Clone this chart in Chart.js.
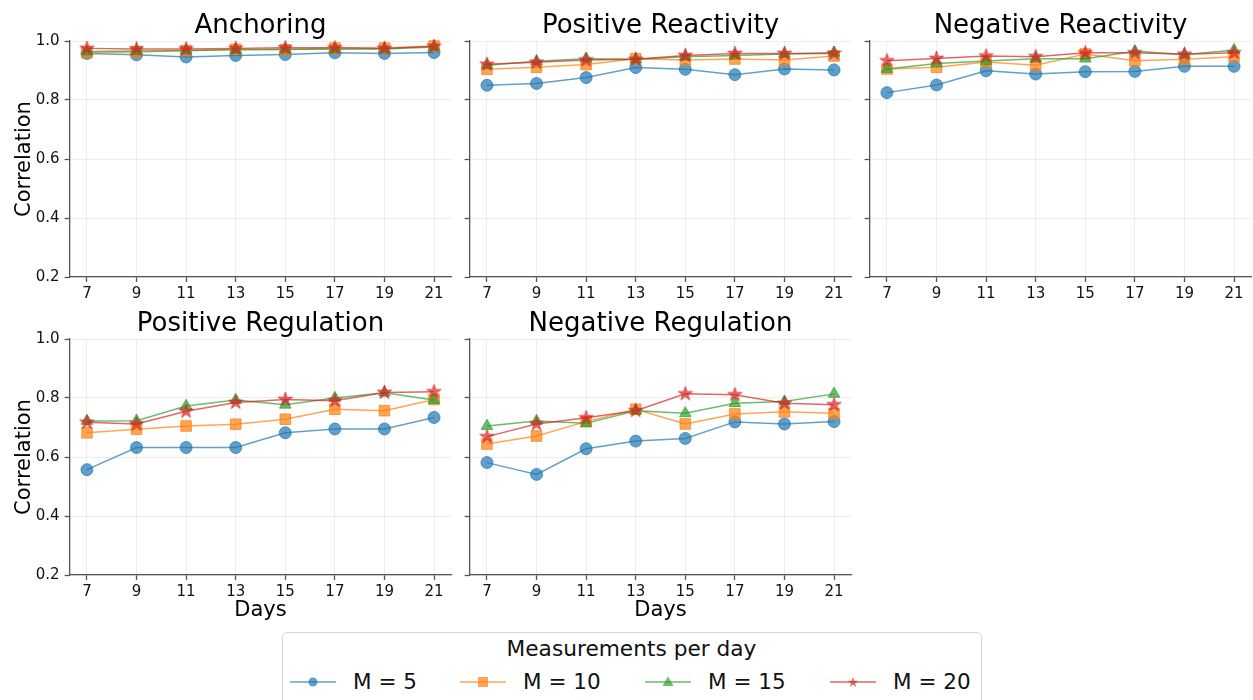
<!DOCTYPE html>
<html>
<head>
<meta charset="utf-8">
<script src="https://cdn.jsdelivr.net/npm/chart.js@4.4.1/dist/chart.umd.min.js"></script>
<style>
  html, body { margin: 0; padding: 0; background: #ffffff; }
  body { width: 1253px; height: 700px; overflow: hidden; position: relative; font-family: 'DejaVu Sans', sans-serif; }
  canvas { position: absolute; }
  #legend { position: absolute; left: 281.5px; top: 631.5px; width: 700px; height: 90px; border: 1px solid #d6d6d6; border-radius: 5px; box-sizing: border-box; background: #fff; }
  #legend .ttl { position: absolute; left: 0; width: 100%; text-align: center; font-size: 21.7px; line-height: 22px; color: #111; }
  #legend .lbl { position: absolute; font-size: 21.5px; line-height: 22px; color: #111; white-space: nowrap; }
  #legend svg { position: absolute; }
</style>
</head>
<body>
<canvas id="c0" width="460" height="310" style="left:0px;top:0px"></canvas>
<canvas id="c1" width="400" height="310" style="left:460px;top:0px"></canvas>
<canvas id="c2" width="393" height="310" style="left:860px;top:0px"></canvas>
<canvas id="c3" width="460" height="332" style="left:0px;top:298px"></canvas>
<canvas id="c4" width="400" height="332" style="left:460px;top:298px"></canvas>
<div id="legend"></div>
<script>
// ---------- data ----------
const days = [7, 9, 11, 13, 15, 17, 19, 21];
const xTicks = [7, 9, 11, 13, 15, 17, 19, 21];
const yTicks = [0.2, 0.4, 0.6, 0.8, 1.0];
const seriesLabels = ['M = 5', 'M = 10', 'M = 15', 'M = 20'];
const panelTitles = ['Anchoring', 'Positive Reactivity', 'Negative Reactivity', 'Positive Regulation', 'Negative Regulation'];
const legendTitle = 'Measurements per day';
const yAxisTitle = 'Correlation';
const xAxisTitle = 'Days';

const anchoring_m5  = [0.958, 0.953, 0.946, 0.951, 0.954, 0.960, 0.958, 0.961];
const anchoring_m10 = [0.960, 0.963, 0.967, 0.972, 0.970, 0.976, 0.976, 0.983];
const anchoring_m15 = [0.964, 0.966, 0.968, 0.970, 0.972, 0.972, 0.973, 0.980];
const anchoring_m20 = [0.975, 0.973, 0.973, 0.975, 0.977, 0.977, 0.975, 0.982];

const posReact_m5  = [0.850, 0.856, 0.876, 0.910, 0.904, 0.886, 0.905, 0.902];
const posReact_m10 = [0.904, 0.911, 0.920, 0.940, 0.936, 0.939, 0.936, 0.949];
const posReact_m15 = [0.918, 0.931, 0.940, 0.938, 0.947, 0.951, 0.956, 0.960];
const posReact_m20 = [0.921, 0.928, 0.936, 0.938, 0.951, 0.958, 0.958, 0.958];

const negReact_m5  = [0.825, 0.851, 0.899, 0.888, 0.896, 0.897, 0.914, 0.914];
const negReact_m10 = [0.905, 0.911, 0.929, 0.918, 0.956, 0.933, 0.938, 0.947];
const negReact_m15 = [0.905, 0.924, 0.932, 0.940, 0.940, 0.965, 0.954, 0.969];
const negReact_m20 = [0.933, 0.941, 0.949, 0.947, 0.960, 0.960, 0.955, 0.960];

const posReg_m5  = [0.557, 0.632, 0.632, 0.632, 0.682, 0.695, 0.695, 0.734];
const posReg_m10 = [0.682, 0.694, 0.705, 0.711, 0.728, 0.762, 0.757, 0.795];
const posReg_m15 = [0.722, 0.723, 0.773, 0.793, 0.777, 0.800, 0.818, 0.793];
const posReg_m20 = [0.718, 0.712, 0.755, 0.785, 0.795, 0.791, 0.819, 0.821];

const negReg_m5  = [0.581, 0.541, 0.628, 0.654, 0.663, 0.719, 0.712, 0.720];
const negReg_m10 = [0.644, 0.671, 0.720, 0.762, 0.712, 0.746, 0.753, 0.748];
const negReg_m15 = [0.705, 0.722, 0.714, 0.757, 0.748, 0.782, 0.788, 0.814];
const negReg_m20 = [0.669, 0.712, 0.733, 0.757, 0.814, 0.811, 0.782, 0.777];

// ---------- styles ----------
const seriesColors = ['rgba(31,119,180,0.7)', 'rgba(255,127,14,0.7)', 'rgba(44,160,44,0.7)', 'rgba(214,39,40,0.7)'];
const FONT = "'DejaVu Sans', sans-serif";
Chart.defaults.font.family = FONT;
Chart.defaults.color = '#111';

function starCanvas(color, R) {
  const s = Math.ceil(R * 2 + 4);
  const c = document.createElement('canvas');
  c.width = s; c.height = s;
  const g = c.getContext('2d');
  g.beginPath();
  for (let i = 0; i < 10; i++) {
    const r = (i % 2) ? R * 0.382 : R;
    const a = -Math.PI / 2 + i * Math.PI / 5;
    g.lineTo(s / 2 + r * Math.cos(a), s / 2 + r * Math.sin(a));
  }
  g.closePath();
  g.fillStyle = color; g.fill();
  g.strokeStyle = color; g.lineWidth = 1; g.stroke();
  return c;
}
const pointStyles = ['circle', 'rect', 'triangle', starCanvas(seriesColors[3], 7.5)];
const pointRadii = [6, 7.5, 6.7, 7];

const SPINE = '#555';
const GRID = 'rgba(0,0,0,0.065)';

function makePanel(id, title, series, o) {
  const datasets = series.map((vals, i) => ({
    label: seriesLabels[i],
    data: vals.map((v, j) => ({ x: days[j], y: v })),
    borderColor: seriesColors[i],
    backgroundColor: seriesColors[i],
    pointBackgroundColor: seriesColors[i],
    pointBorderColor: seriesColors[i],
    borderWidth: 1.5,
    pointBorderWidth: 1,
    pointStyle: pointStyles[i],
    pointRadius: pointRadii[i],
    tension: 0,
    clip: false,
    order: 3 - i
  }));
  return new Chart(document.getElementById(id), {
    type: 'line',
    data: { datasets },
    options: {
      responsive: false,
      animation: false,
      events: [],
      devicePixelRatio: 1,
      layout: { autoPadding: false, padding: { left: 0, top: 0, bottom: 0, right: o.padRight } },
      plugins: {
        legend: { display: false },
        tooltip: { enabled: false },
        title: {
          display: true, text: title, fullSize: false,
          color: '#000',
          font: { size: 26, weight: 'normal', lineHeight: 1 },
          padding: { top: 13.3, bottom: 1.7 }
        }
      },
      scales: {
        x: {
          type: 'linear', min: 6.3, max: 21.7,
          afterBuildTicks: s => { s.ticks = xTicks.map(v => ({ value: v })); },
          afterFit: s => { s.height = o.xHeight; },
          ticks: { font: { size: 15 }, color: '#111', padding: 3, maxRotation: 0, autoSkip: false, callback: v => String(v) },
          grid: { color: GRID, lineWidth: 1, tickColor: SPINE, tickWidth: 1.3, tickLength: 5, drawTicks: true },
          border: { display: true, color: SPINE, width: 1.3 },
          title: { display: !!o.xTitle, text: xAxisTitle, font: { size: 21 }, color: '#000', padding: { top: 0, bottom: 6.6 } }
        },
        y: {
          type: 'linear', min: 0.2, max: 1.0,
          afterBuildTicks: s => { s.ticks = yTicks.map(v => ({ value: v })); },
          afterFit: s => { s.width = o.yWidth; },
          ticks: { display: o.yLabels, font: { size: 15 }, color: '#111', padding: 5, callback: v => Number(v).toFixed(1) },
          grid: { color: GRID, lineWidth: 1, tickColor: SPINE, tickWidth: 1.3, tickLength: 5, drawTicks: true },
          border: { display: true, color: SPINE, width: 1.3 },
          title: { display: !!o.yTitle, text: yAxisTitle, font: { size: 21 }, color: '#000', padding: { top: 12, bottom: 0 } }
        }
      }
    }
  });
}

makePanel('c0', panelTitles[0], [anchoring_m5, anchoring_m10, anchoring_m15, anchoring_m20],
  { yLabels: true, yTitle: true, xTitle: false, yWidth: 69.6, xHeight: 33, padRight: 8.6 });
makePanel('c1', panelTitles[1], [posReact_m5, posReact_m10, posReact_m15, posReact_m20],
  { yLabels: false, yTitle: false, xTitle: false, yWidth: 9.6, xHeight: 33, padRight: 8.6 });
makePanel('c2', panelTitles[2], [negReact_m5, negReact_m10, negReact_m15, negReact_m20],
  { yLabels: false, yTitle: false, xTitle: false, yWidth: 9.6, xHeight: 33, padRight: 1.6 });
makePanel('c3', panelTitles[3], [posReg_m5, posReg_m10, posReg_m15, posReg_m20],
  { yLabels: true, yTitle: true, xTitle: true, yWidth: 69.6, xHeight: 55, padRight: 8.6 });
makePanel('c4', panelTitles[4], [negReg_m5, negReg_m10, negReg_m15, negReg_m20],
  { yLabels: false, yTitle: false, xTitle: true, yWidth: 9.6, xHeight: 55, padRight: 8.6 });

// ---------- legend (HTML) ----------
(function buildLegend() {
  const lg = document.getElementById('legend');
  const ttl = document.createElement('div');
  ttl.className = 'ttl';
  ttl.style.top = (638.4 - 632.5) + 'px';
  ttl.textContent = legendTitle;
  lg.appendChild(ttl);
  const handleLeft = [290, 460, 645, 830];
  const textLeft = [353, 523, 708, 893];
  const ox = 282.5, oy = 632.5;
  const NS = 'http://www.w3.org/2000/svg';
  seriesLabels.forEach((lab, i) => {
    const svg = document.createElementNS(NS, 'svg');
    svg.setAttribute('width', 46); svg.setAttribute('height', 20);
    svg.style.left = (handleLeft[i] - ox) + 'px';
    svg.style.top = (682 - 10 - oy) + 'px';
    const ln = document.createElementNS(NS, 'line');
    ln.setAttribute('x1', 0); ln.setAttribute('x2', 46); ln.setAttribute('y1', 10); ln.setAttribute('y2', 10);
    ln.setAttribute('stroke', seriesColors[i]); ln.setAttribute('stroke-width', 1.5);
    svg.appendChild(ln);
    let m;
    if (i === 0) {
      m = document.createElementNS(NS, 'circle');
      m.setAttribute('cx', 23); m.setAttribute('cy', 10); m.setAttribute('r', 4.5);
    } else if (i === 1) {
      m = document.createElementNS(NS, 'rect');
      m.setAttribute('x', 18); m.setAttribute('y', 5); m.setAttribute('width', 10); m.setAttribute('height', 10);
    } else if (i === 2) {
      m = document.createElementNS(NS, 'polygon');
      m.setAttribute('points', '23,4.5 28.5,14 17.5,14');
    } else {
      m = document.createElementNS(NS, 'polygon');
      const pts = [];
      for (let k = 0; k < 10; k++) {
        const r = (k % 2) ? 5.5 * 0.382 : 5.5;
        const a = -Math.PI / 2 + k * Math.PI / 5;
        pts.push((23 + r * Math.cos(a)).toFixed(2) + ',' + (10.5 + r * Math.sin(a)).toFixed(2));
      }
      m.setAttribute('points', pts.join(' '));
    }
    m.setAttribute('fill', seriesColors[i]);
    svg.appendChild(m);
    lg.appendChild(svg);
    const t = document.createElement('div');
    t.className = 'lbl';
    t.style.left = (textLeft[i] - ox) + 'px';
    t.style.top = (671.4 - oy) + 'px';
    t.textContent = lab;
    lg.appendChild(t);
  });
})();
</script>
</body>
</html>
